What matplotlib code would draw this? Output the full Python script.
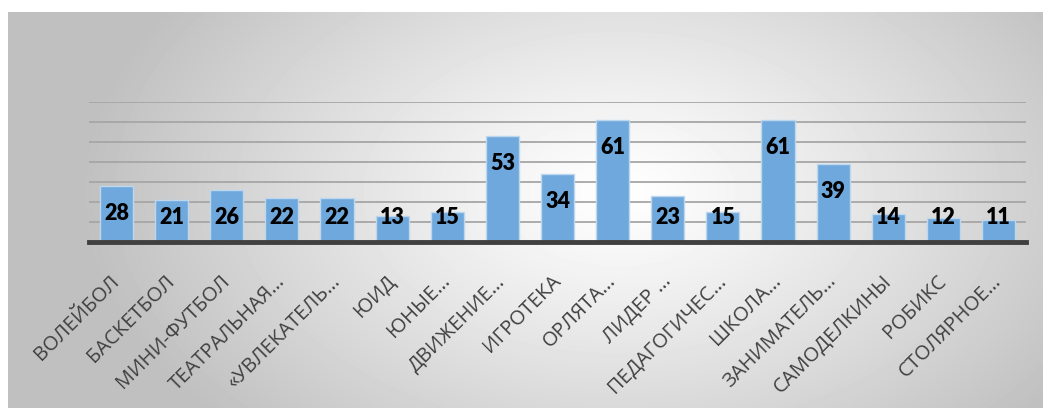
import numpy as np
import matplotlib
matplotlib.use('Agg')
import matplotlib.pyplot as plt

categories = ['ВОЛЕЙБОЛ', 'БАСКЕТБОЛ', 'МИНИ-ФУТБОЛ', 'ТЕАТРАЛЬНАЯ…', '«УВЛЕКАТЕЛЬ…',
              'ЮИД', 'ЮНЫЕ…', 'ДВИЖЕНИЕ…', 'ИГРОТЕКА', 'ОРЛЯТА…', 'ЛИДЕР …',
              'ПЕДАГОГИЧЕС…', 'ШКОЛА…', 'ЗАНИМАТЕЛЬ…', 'САМОДЕЛКИНЫ', 'РОБИКС',
              'СТОЛЯРНОЕ…']
values = [28, 21, 26, 22, 22, 13, 15, 53, 34, 61, 23, 15, 61, 39, 14, 12, 11]

W, H = 1043, 408
fig = plt.figure(figsize=(W / 100, H / 100), dpi=100)
fig.patch.set_facecolor('white')

# radial grey-to-white background of the chart area
bg = fig.add_axes([8 / W, 0, 1 - 8 / W, 396 / H], zorder=0)
yy, xx = np.mgrid[0:396, 0:1035]
d = np.sqrt(((xx - 610) / 540.0) ** 2 + ((yy - 180) / 340.0) ** 2)
shade = 1 - 0.25 * np.clip(d, 0, 1) ** 1.15
bg.imshow(shade, cmap='gray', vmin=0, vmax=1, aspect='auto',
          extent=(0, 1, 0, 1), interpolation='bilinear')
bg.axis('off')

ax = fig.add_axes([89 / W, 1 - 241.5 / H, (1026 - 89) / W, 140 / H], zorder=1)
ax.patch.set_alpha(0)

x = np.arange(len(categories))
ax.bar(x, values, width=0.6, color='#6fa8dc', edgecolor='#bdd7ee',
       linewidth=1, zorder=3)

for xi, v in zip(x, values):
    ax.text(xi, max(v - 14, 12), str(v), ha='center', va='center',
            fontsize=15.5, fontweight='heavy', color='black',
            family=['Lato', 'DejaVu Sans'], zorder=4)

ax.set_xlim(-0.5, len(categories) - 0.5)
ax.set_ylim(0, 70)
ax.set_yticks(np.arange(10, 71, 10))
ax.yaxis.grid(True, color='#a6a6a6', linewidth=1.3, zorder=1)
ax.tick_params(axis='y', left=False, labelleft=False)
ax.tick_params(axis='x', bottom=False, pad=23)
for s in ['top', 'right', 'left']:
    ax.spines[s].set_visible(False)
ax.spines['bottom'].set_color('#404040')
ax.spines['bottom'].set_linewidth(3.5)
ax.spines['bottom'].set_zorder(5)

ax.set_xticks(x)
ax.set_xticklabels(categories, family=['Open Sans', 'DejaVu Sans'],
                   fontsize=14.5, color='#404040')
plt.setp(ax.get_xticklabels(), rotation=45, ha='right', va='center',
         rotation_mode='anchor')

fig.savefig('out.png', dpi=100)
